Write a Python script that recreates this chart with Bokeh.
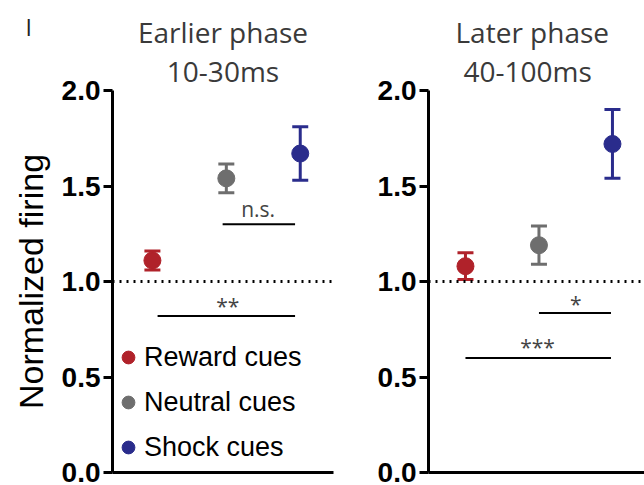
from bokeh.plotting import figure
from bokeh.layouts import row
from bokeh.models import (ColumnDataSource, FixedTicker, Span, Legend, LegendItem,
                          NumeralTickFormatter, Title)
from bokeh.embed import file_html
from bokeh.resources import INLINE

# ---------------- data ----------------
groups = ["Reward cues", "Neutral cues", "Shock cues"]
colors = ["#b0222a", "#6e6e6e", "#2a2c8c"]
xpos = [1, 2, 3]

early_mean = [1.11, 1.54, 1.67]
early_err = [0.05, 0.075, 0.14]
late_mean = [1.08, 1.19, 1.72]
late_err = [0.07, 0.10, 0.18]

yticks = [0.0, 0.5, 1.0, 1.5, 2.0]
baseline = 1.0

panel_letter = "I"
early_title = ["Earlier phase", "10-30ms"]
late_title = ["Later phase", "40-100ms"]

# significance bars: x0, x1, y, label, label x, label y
early_sig_x0 = [1.95, 1.07]
early_sig_x1 = [2.93, 2.93]
early_sig_y = [1.30, 0.82]
early_sig_txt = ["n.s.", "**"]
early_sig_tx = [2.43, 2.02]
early_sig_ty = [1.38, 0.87]

late_sig_x0 = [2.00, 1.00]
late_sig_x1 = [2.98, 2.98]
late_sig_y = [0.835, 0.60]
late_sig_txt = ["*", "***"]
late_sig_tx = [2.50, 1.98]
late_sig_ty = [0.88, 0.655]

SANS = "Liberation Sans"
TFONT = "Open Sans"


def make_panel(mean, err, sig_x0, sig_x1, sig_y, sig_txt, sig_tx, sig_ty, titles,
               title_align, title_offsets,
               x_range, width, frame_w, border_left, border_right, ylabel):
    p = figure(width=width, height=485, x_range=x_range, y_range=(0, 2.0),
               frame_width=frame_w, frame_height=382,
               min_border_left=border_left, min_border_right=border_right,
               min_border_top=90, min_border_bottom=13,
               output_backend="svg", toolbar_location=None)
    p.outline_line_color = None
    p.xgrid.visible = False
    p.ygrid.visible = False
    p.background_fill_color = "white"
    p.border_fill_color = "white"

    # axes
    p.xaxis.ticker = FixedTicker(ticks=[])
    p.xaxis.major_tick_line_color = None
    p.xaxis.minor_tick_line_color = None
    p.xaxis.axis_line_width = 3
    p.xaxis.axis_line_color = "black"

    p.yaxis.ticker = FixedTicker(ticks=yticks)
    p.yaxis.formatter = NumeralTickFormatter(format="0.0")
    p.yaxis.axis_line_width = 3
    p.yaxis.axis_line_color = "black"
    p.yaxis.major_tick_line_width = 3
    p.yaxis.major_tick_out = 9
    p.yaxis.major_tick_in = 0
    p.yaxis.minor_tick_line_color = None
    p.yaxis.major_label_text_font = SANS
    p.yaxis.major_label_text_font_style = "bold"
    p.yaxis.major_label_text_font_size = "28px"
    p.yaxis.major_label_text_color = "black"
    p.yaxis.major_label_standoff = 3
    if ylabel:
        p.yaxis.axis_label = ylabel
        p.yaxis.axis_label_text_font = SANS
        p.yaxis.axis_label_text_font_style = "normal"
        p.yaxis.axis_label_text_font_size = "34px"
        p.yaxis.axis_label_text_color = "black"
        p.yaxis.axis_label_standoff = 9

    # two title lines; the first added sits nearest the frame
    for txt, so, off in zip(reversed(titles), [2, -4], reversed(title_offsets)):
        p.add_layout(Title(text=txt, align=title_align, offset=off, standoff=so,
                           vertical_align="bottom", text_font=TFONT,
                           text_font_size="28px", text_font_style="normal",
                           text_color="#3a3a3a"), "above")

    # baseline dotted
    p.add_layout(Span(location=baseline, dimension="width", line_color="black",
                      line_width=3, line_dash="2 5"))

    lower = [m - e for m, e in zip(mean, err)]
    upper = [m + e for m, e in zip(mean, err)]
    src = ColumnDataSource(dict(x=xpos, y=mean, lo=lower, hi=upper, c=colors))
    p.segment(x0="x", y0="lo", x1="x", y1="hi", line_color="c", line_width=3, source=src)
    p.scatter(x="x", y="hi", marker="dash", size=16, line_width=3, line_color="c", source=src)
    p.scatter(x="x", y="lo", marker="dash", size=16, line_width=3, line_color="c", source=src)
    pts = p.scatter(x="x", y="y", size=17, fill_color="c", line_color="c", source=src)

    # significance
    ssrc = ColumnDataSource(dict(x0=sig_x0, x1=sig_x1, y=sig_y))
    p.segment(x0="x0", y0="y", x1="x1", y1="y", line_color="black", line_width=2, source=ssrc)
    tsrc = ColumnDataSource(dict(x=sig_tx, y=sig_ty, t=sig_txt))
    p.text(x="x", y="y", text="t", source=tsrc, text_align="center",
           text_baseline="alphabetic", text_font_size="21px",
           text_font={"value": TFONT}, text_color="#444444")
    return p, pts


p1, pts1 = make_panel(early_mean, early_err, early_sig_x0, early_sig_x1, early_sig_y,
                      early_sig_txt, early_sig_tx, early_sig_ty, early_title,
                      "center", [0, 0],
                      (0.46, 3.45), 350, 221, 112, 17, "Normalized firing")
p2, pts2 = make_panel(late_mean, late_err, late_sig_x0, late_sig_x1, late_sig_y,
                      late_sig_txt, late_sig_tx, late_sig_ty, late_title,
                      "left", [27, 35],
                      (0.497, 3.436), 294, 216, 78, 0, None)

# panel letter, outermost title of the left panel
p1.add_layout(Title(text=panel_letter, align="left", offset=-87, standoff=-60,
                    vertical_align="bottom", text_font=TFONT, text_font_size="23px",
                    text_font_style="normal", text_color="#222222"), "above")

# legend
items = [LegendItem(label=g, renderers=[pts1], index=i) for i, g in enumerate(groups)]
leg = Legend(items=items, location=(0, 9), margin=0, padding=0,
             glyph_width=32, glyph_height=32, label_height=32, spacing=13,
             label_standoff=0, label_text_font=SANS, label_text_font_size="27px",
             label_text_color="black", border_line_alpha=0, background_fill_alpha=0)
p1.add_layout(leg, "center")

layout = row(p1, p2)
open("out.html", "w").write(file_html(layout, INLINE))
